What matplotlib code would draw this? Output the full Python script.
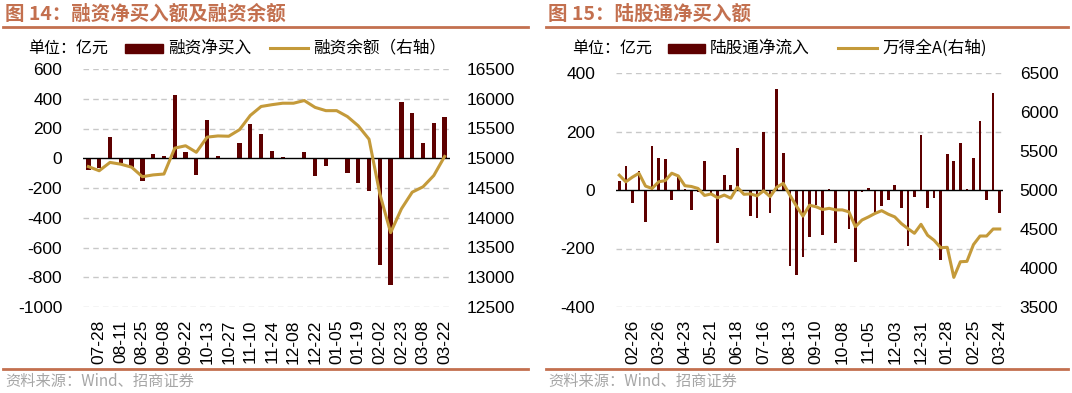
import matplotlib.pyplot as plt
from matplotlib.patches import Rectangle
from matplotlib.lines import Line2D
import numpy as np

plt.rcParams['font.family'] = ['Liberation Sans', 'Noto Sans CJK SC']

# ---- left chart: margin buying (weekly) ----
net_buy = [-80, -65, 140, -30, -60, -150, 30, 15, 425, 45, -115, 260, 12, 0,
           100, 230, 160, 50, 8, -3, 42, -120, -55, 5, -100, -165, -220, -720,
           -850, 375, 305, 100, 235, 275]
balance = [14860, 14790, 14930, 14900, 14850, 14690, 14720, 14735, 15170, 15210,
           15100, 15355, 15375, 15370, 15480, 15720, 15870, 15900, 15925, 15925,
           15970, 15855, 15800, 15800, 15700, 15545, 15320, 14400, 13750, 14150,
           14430, 14520, 14710, 15030]
left_ticklabels = ['07-28', '08-11', '08-25', '09-08', '09-22', '10-13', '10-27',
                   '11-10', '11-24', '12-08', '12-22', '01-05', '01-19', '02-02',
                   '02-23', '03-08', '03-22']

# ---- right chart: northbound flow (weekly) ----
north_flow = [30, 82, -45, 66, -110, 150, 110, 105, -35, 45, 5, -70, -8, 100, -12,
              -180, 50, 17, 145, -5, -88, -96, 200, -80, 345, 125, -260, -290, -230,
              -160, -50, -155, 3, -180, 1, -135, -245, -8, 6, -80, -55, -34, 16, -62,
              -190, -25, 188, -60, -28, -240, 122, 100, 160, 2, 110, 235, -35, 330, -80]
wind_a = [5190, 5105, 5165, 5215, 5050, 5020, 5105, 5120, 5215, 5180, 5055, 5045,
          5020, 4930, 4950, 4900, 4935, 4895, 5035, 4945, 4950, 4925, 4990, 4915,
          5035, 5085, 4935, 4795, 4665, 4805, 4785, 4750, 4765, 4745, 4745, 4720,
          4530, 4615, 4655, 4700, 4735, 4690, 4655, 4570, 4505, 4445, 4560, 4420,
          4355, 4260, 4265, 3880, 4080, 4085, 4300, 4410, 4410, 4500, 4500]
right_ticklabels = ['02-26', '03-26', '04-23', '05-21', '06-18', '07-16', '08-13',
                    '09-10', '10-08', '11-05', '12-03', '12-31', '01-28', '02-25',
                    '03-24']

BAR = '#5E0000'
GOLD = '#C49A3A'
ACCENT = '#C3704F'
GRID = '#C8C8C8'
CJK = ['Noto Sans CJK SC', 'Liberation Sans']

W, H = 1072, 393
fig = plt.figure(figsize=(W / 100, H / 100), dpi=100, facecolor='white')


def px_axes(x0, y0, x1, y1):
    # pixel box (top-left origin) -> figure axes
    return fig.add_axes([x0 / W, 1 - y1 / H, (x1 - x0) / W, (y1 - y0) / H])


def style(ax, ax2, ylim, yticks, ylim2, yticks2, xlim, xticks, xlabels):
    ax.set_xlim(*xlim)
    ax.set_ylim(*ylim)
    ax.set_yticks(yticks)
    ax.set_yticklabels([str(v) for v in yticks])
    ax.set_xticks(xticks)
    ax.set_xticklabels(xlabels, rotation=90)
    for v in yticks:
        if v != 0:
            ax.axhline(v, color=GRID, lw=1, ls=(0, (4, 3)), zorder=0)
    ax.axhline(0, color='black', lw=1, zorder=3)
    ax2.set_ylim(*ylim2)
    ax2.set_yticks(yticks2)
    ax2.set_yticklabels([str(v) for v in yticks2])
    for a in (ax, ax2):
        for s in a.spines.values():
            s.set_visible(False)
        a.tick_params(length=0, labelsize=12.5, colors='black')
    ax.tick_params(axis='y', pad=15)
    ax.tick_params(axis='x', pad=9)
    ax2.tick_params(axis='y', pad=12)


def header(x0, x1, title, unit_x, patch_x, bar_label, line_x, line_label):
    fig.text(x0 + 2 / W, 1 - 14 / H, title, fontsize=14, fontweight='bold',
             color=ACCENT, family=CJK, va='center', ha='left')
    fig.add_artist(Line2D([x0, x1], [1 - 27 / H, 1 - 27 / H], color=ACCENT, lw=2,
                          transform=fig.transFigure))
    fig.add_artist(Line2D([x0, x1], [1 - 369 / H, 1 - 369 / H], color=ACCENT, lw=2,
                          transform=fig.transFigure))
    fig.text(unit_x / W, 1 - 48 / H, '单位：亿元', fontsize=11.5, family=CJK,
             va='center', ha='left')
    fig.add_artist(Rectangle((patch_x[0] / W, 1 - 53 / H),
                             (patch_x[1] - patch_x[0]) / W, 9 / H, color=BAR,
                             transform=fig.transFigure))
    fig.text((patch_x[1] + 5) / W, 1 - 48 / H, bar_label, fontsize=12, family=CJK,
             va='center', ha='left')
    fig.add_artist(Line2D([line_x[0] / W, line_x[1] / W], [1 - 48 / H, 1 - 48 / H],
                          color=GOLD, lw=2.2, transform=fig.transFigure))
    fig.text((line_x[1] + 5) / W, 1 - 48 / H, line_label, fontsize=12, family=CJK,
             va='center', ha='left')
    fig.text(x0 + 2 / W, 1 - 381 / H, '资料来源：Wind、招商证券', fontsize=11,
             family=CJK, color='#A6A6A6', va='center', ha='left')


# left chart
axL = px_axes(83, 69, 450, 307)
xl = np.arange(len(net_buy))
axL.bar(xl, net_buy, width=0.4, color=BAR, zorder=2)
axL2 = axL.twinx()
axL2.plot(xl, balance, color=GOLD, lw=2.2, zorder=4)
style(axL, axL2, (-1000, 600), list(range(-1000, 601, 200)),
      (12500, 16500), list(range(12500, 16501, 500)),
      (-0.5, len(net_buy) - 0.5), xl[1::2], left_ticklabels)
header(3 / W, 528 / W, '图 14：融资净买入额及融资余额', 28, (125, 163), '融资净买入',
       (270, 308), '融资余额（右轴）')

# right chart
axR = px_axes(616, 73, 1003, 307)
xr = np.arange(len(north_flow))
axR.bar(xr, north_flow, width=0.4, color=BAR, zorder=2)
axR2 = axR.twinx()
axR2.plot(xr, wind_a, color=GOLD, lw=2.2, zorder=4)
style(axR, axR2, (-400, 400), list(range(-400, 401, 200)),
      (3500, 6500), list(range(3500, 6501, 500)),
      (-0.5, len(north_flow) - 0.5), xr[2::4], right_ticklabels)
header(546 / W, 1068 / W, '图 15：陆股通净买入额', 572, (668, 705), '陆股通净流入',
       (838, 877), '万得全A(右轴)')

fig.savefig('out.png', dpi=100, facecolor='white')
